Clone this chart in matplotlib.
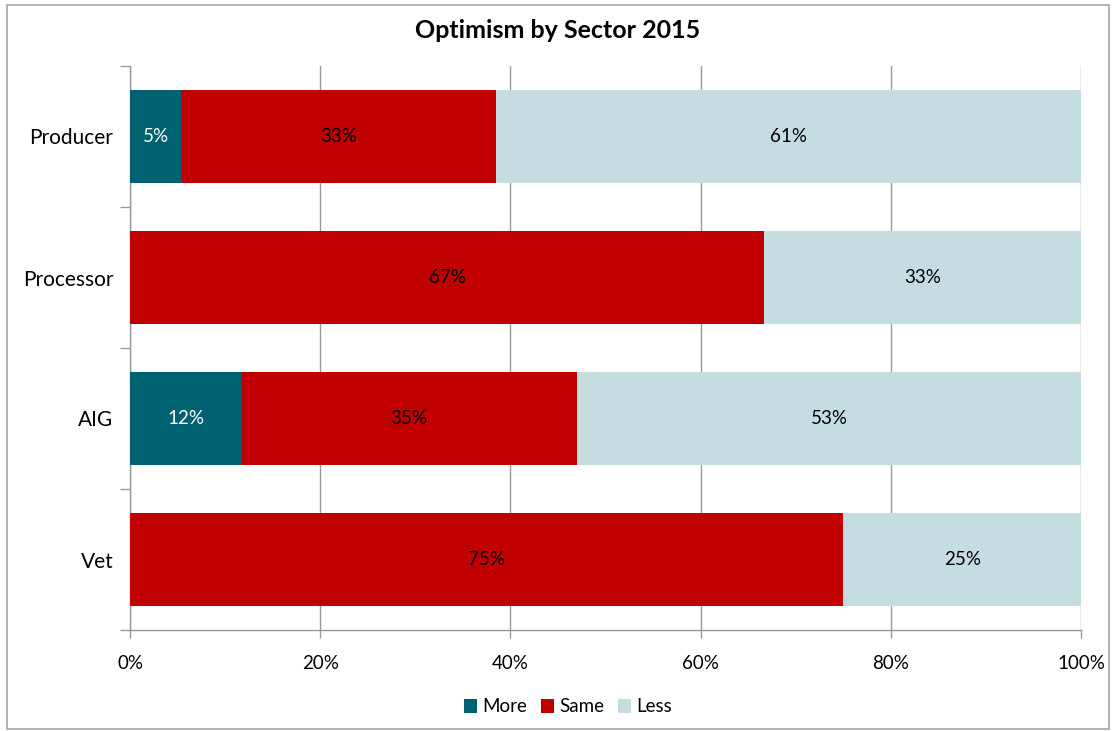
import matplotlib
matplotlib.use("Agg")
import matplotlib.pyplot as plt
from matplotlib.patches import Rectangle
from matplotlib.ticker import FixedLocator, PercentFormatter
import numpy as np

categories = ["Producer", "Processor", "AIG", "Vet"]
more = [5.4, 0.0, 11.7, 0.0]
same = [33.1, 66.7, 35.3, 75.0]
less = [61.5, 33.3, 53.0, 25.0]
more_labels = ["5%", "", "12%", ""]
same_labels = ["33%", "67%", "35%", "75%"]
less_labels = ["61%", "33%", "53%", "25%"]
series_names = ["More", "Same", "Less"]
colors = ["#006270", "#C00000", "#C5DDE0"]
title = "Optimism by Sector 2015"

plt.rcParams['font.family'] = ['Lato', 'DejaVu Sans']

W, H = 1115, 731
fig = plt.figure(figsize=(W / 100, H / 100), dpi=100)
fig.patches.append(Rectangle((7 / W, 1 - 729 / H), (1109 - 7) / W, (729 - 5) / H,
                             transform=fig.transFigure, fill=False,
                             edgecolor="#A6A6A6", linewidth=1.2))

ax = fig.add_axes([130 / W, 1 - 630 / H, (1081 - 130) / W, (630 - 66) / H])
y = np.arange(len(categories))[::-1]
bh = 0.66
left = np.zeros(len(categories))
for vals, labs, name, col, tc in [(more, more_labels, series_names[0], colors[0], "white"),
                                  (same, same_labels, series_names[1], colors[1], "black"),
                                  (less, less_labels, series_names[2], colors[2], "black")]:
    vals = np.array(vals)
    bars = ax.barh(y, vals, left=left, height=bh, color=col, label=name, zorder=3)
    for b, lab, v, l0 in zip(bars, labs, vals, left):
        if v > 0 and lab:
            ax.text(l0 + v / 2, b.get_y() + b.get_height() / 2, lab,
                    ha="center", va="center", color=tc, fontsize=13.5, zorder=4)
    left = left + vals

ax.set_xlim(0, 100)
ax.set_ylim(-0.5, len(categories) - 0.5)
ax.set_xticks(np.arange(0, 101, 20))
ax.xaxis.set_major_formatter(PercentFormatter(decimals=0))
ax.set_yticks(y)
ax.set_yticklabels(categories)
ax.yaxis.set_minor_locator(FixedLocator(np.arange(-0.5, len(categories), 1.0)))
ax.tick_params(axis="y", which="major", length=0, pad=12, labelsize=15)
ax.tick_params(axis="y", which="minor", length=7, color="#999999", width=1)
ax.tick_params(axis="x", which="major", length=6, color="#999999", width=1, pad=12, labelsize=13.5)
ax.grid(axis="x", color="#999999", linewidth=1, zorder=0)
for s in ["top", "right"]:
    ax.spines[s].set_visible(False)
for s in ["left", "bottom"]:
    ax.spines[s].set_color("#999999")
    ax.spines[s].set_linewidth(1)

fig.text(0.5, 1 - 31 / H, title, ha="center", va="center", fontsize=18, fontweight="bold")
fig.legend(*ax.get_legend_handles_labels(), loc="center",
           bbox_to_anchor=(568 / W, 1 - 707 / H), ncol=3, frameon=False,
           fontsize=13.5, handlelength=0.7, handleheight=0.7, handletextpad=0.3,
           columnspacing=0.7)

fig.savefig("out.png", dpi=100)
